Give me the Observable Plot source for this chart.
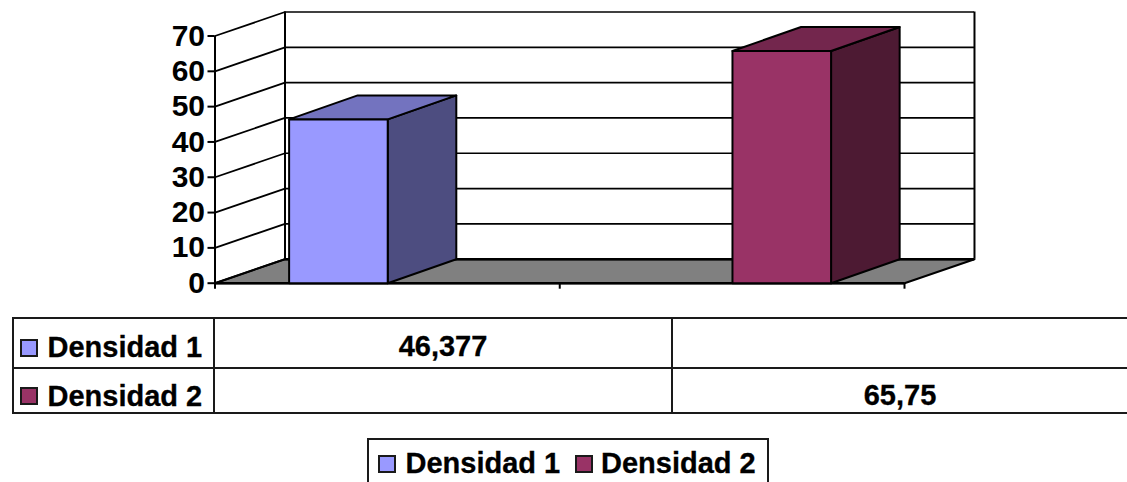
<!DOCTYPE html>
<html>
<head>
<meta charset="utf-8">
<script src="https://cdn.jsdelivr.net/npm/d3@7"></script>
<script src="https://cdn.jsdelivr.net/npm/@observablehq/plot@0.6"></script>
<style>
html,body{margin:0;padding:0;background:#fff;overflow:hidden}
#page{position:relative;width:1127px;height:482px;overflow:hidden;font:bold 29px "Liberation Sans",Arial,sans-serif;color:#000;-webkit-text-stroke:0.3px #000}
#page div{position:absolute;white-space:nowrap;line-height:32px}
.h{height:2px;background:#1a1a1a}
.v{width:2px;background:#1a1a1a}
.sw{width:14px;height:14px;border:2px solid #1a1a1a}
.c{text-align:center}
</style>
</head>
<body>
<div id="page"></div>
<script>
const seriesNames = ["Densidad 1", "Densidad 2"];
const seriesValues = [46.377, 65.75];
const seriesLabels = ["46,377", "65,75"];
const categorySlots = [0, 1];
const yTicks = [0, 10, 20, 30, 40, 50, 60, 70];
const xTicks = [0, 1, 2];
const frontColors = ["#9999ff", "#993366"];
const topColors = ["#7373bf", "#73264d"];
const sideColors = ["#4d4d80", "#4d1a33"];

// depth of the 3D box, in data units
const depthX = 0.203, depthY = 6.8;
const barGap = 0.215, barWidth = 0.286;
const line = {stroke: "#000", strokeWidth: 2};

function poly(pts, fill) {
  return Plot.line(pts, {x: d => d[0], y: d => d[1], curve: "linear-closed", fill, ...line, strokeLinejoin: "round"});
}
const barMarks = seriesValues.flatMap((v, i) => {
  const x0 = categorySlots[i] + barGap + i * barWidth, x1 = x0 + barWidth;
  const dx = depthX * 0.98;
  return [
    poly([[x1, 0], [x1 + dx, depthY], [x1 + dx, v + depthY], [x1, v]], sideColors[i]),
    poly([[x0, v], [x1, v], [x1 + dx, v + depthY], [x0 + dx, v + depthY]], topColors[i]),
    poly([[x0, 0], [x1, 0], [x1, v], [x0, v]], frontColors[i])
  ];
});

const chart = Plot.plot({
  width: 1127,
  height: 312,
  marginLeft: 214.5,
  marginRight: 223,
  marginTop: 35.5,
  marginBottom: 29.3,
  style: {display: "block", background: "transparent"},
  x: {domain: [0, 2], label: null},
  y: {domain: [0, 70], label: null},
  marks: [
    poly([[0, 0], [2, 0], [2 + depthX, depthY], [depthX, depthY]], "#808080"),
    Plot.ruleY(yTicks.slice(1), {y: d => d + depthY, x1: () => depthX, x2: () => 2 + depthX, ...line, strokeWidth: 1.7}),
    Plot.link(yTicks, {x1: () => 0, y1: d => d, x2: () => depthX, y2: d => d + depthY, ...line, strokeWidth: 1.8}),
    Plot.ruleX([depthX, 2 + depthX], {y1: () => depthY, y2: () => 70 + depthY, ...line}),
    Plot.ruleY([depthY], {x1: () => depthX, x2: () => 2 + depthX, stroke: "#000", strokeWidth: 2.4}),
    Plot.ruleX([0], {y1: () => 0, y2: () => 70, ...line}),
    Plot.ruleY([0], {x1: () => 0, x2: () => 2, stroke: "#000", strokeWidth: 2.4}),
    Plot.axisY({ticks: yTicks, tickSize: 7, tickPadding: 3, fontSize: 30, fontWeight: "bold", fontFamily: "Liberation Sans", label: null, stroke: "#000", strokeWidth: 2, fill: "#000"}),
    Plot.axisX({ticks: xTicks, tickSize: 6, tickFormat: () => "", label: null, stroke: "#000", strokeWidth: 2}),
    ...barMarks
  ]
});
const page = document.getElementById("page");
chart.style.position = "absolute";
chart.style.left = "0";
chart.style.top = "0";
page.appendChild(chart);

function add(cls, style, text) {
  const d = document.createElement("div");
  d.className = cls;
  Object.assign(d.style, style);
  if (text) d.textContent = text;
  page.appendChild(d);
  return d;
}
// data table below the chart
const rows = [316.5, 366.5, 412];
rows.forEach(y => add("h", {left: "12px", width: "1115px", top: y + "px"}));
add("v", {left: "12px", top: "316.5px", height: "97px"});
add("v", {left: "213px", top: "316.5px", height: "97px"});
add("v", {left: "671px", top: "316.5px", height: "97px"});
const cells = [[214, 458], [673, 454]];
seriesNames.forEach((name, i) => {
  add("sw", {left: "20px", top: (339 + i * 48) + "px", background: frontColors[i]});
  add("", {left: "47.5px", top: (331 + i * 49) + "px"}, name);
  add("c", {left: cells[i][0] + "px", width: cells[i][1] + "px", top: (330 + i * 49) + "px"}, seriesLabels[i]);
});
// legend box (runs off the bottom of the picture)
add("", {left: "367px", top: "438px", width: "397.5px", height: "60px", border: "2px solid #1a1a1a"});
const legendX = [[378, 405.5], [574.5, 601]];
seriesNames.forEach((name, i) => {
  add("sw", {left: legendX[i][0] + "px", top: "455px", background: frontColors[i]});
  add("", {left: legendX[i][1] + "px", top: "447px"}, name);
});
</script>
</body>
</html>
